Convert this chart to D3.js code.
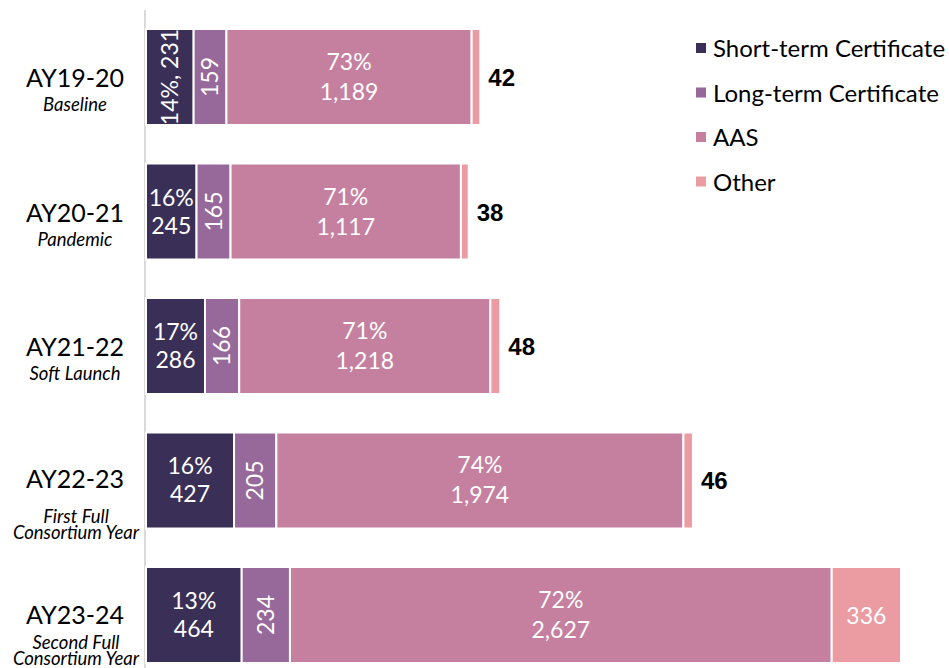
<!DOCTYPE html>
<html>
<head>
<meta charset="utf-8">
<script src="https://cdn.jsdelivr.net/npm/d3@7"></script>
<style>
  html, body { margin: 0; padding: 0; background: #fff; }
  svg { display: block; }
</style>
</head>
<body>
<svg id="chart" width="949" height="668"></svg>
<script>
// Awards by credential type, per academic year
const years = ["AY19-20", "AY20-21", "AY21-22", "AY22-23", "AY23-24"];
const subtitles = [["Baseline"], ["Pandemic"], ["Soft Launch"], ["First Full", "Consortium Year"], ["Second Full", "Consortium Year"]];
const seriesNames = ["Short-term Certificate", "Long-term Certificate", "AAS", "Other"];
const shortTerm = [231, 245, 286, 427, 464];
const longTerm = [159, 165, 166, 205, 234];
const aas = [1189, 1117, 1218, 1974, 2627];
const other = [42, 38, 48, 46, 336];
const colors = ["#3a2f57", "#97699a", "#c6809f", "#eb9ca2"];

// vertical offsets (from bar centre) of the category label lines
const labelOffsets = [[10, 34], [10, 34], [10, 34], [8, 43, 59], [9, 34, 50]];

const rows = years.map((y, i) => ({
  year: y, sub: subtitles[i], off: labelOffsets[i],
  vals: [shortTerm[i], longTerm[i], aas[i], other[i]]
}));
rows.forEach(r => { r.total = d3.sum(r.vals); });

const svg = d3.select("#chart");
const x = d3.scaleLinear().domain([0, 3661]).range([146, 901]);
const y = d3.scaleBand().domain(years).range([29, 663]).paddingInner(0.2862).paddingOuter(0);

// vertical category axis line
svg.append("line")
  .attr("x1", 145).attr("x2", 145).attr("y1", 10).attr("y2", 668)
  .attr("stroke", "#d9d9d9").attr("stroke-width", 2);

const fmt = d3.format(",");
const pct = v => Math.round(v * 100) + "%";
const labelFont = "23px Lato";

rows.forEach((r, ri) => {
  const g = svg.append("g");
  const top = y(r.year), h = y.bandwidth(), cy = top + h / 2;
  let acc = 0;
  const segs = r.vals.map((v, k) => { const s = { k, v, a: acc, b: acc + v }; acc += v; return s; });

  g.selectAll("rect").data(segs).join("rect")
    .attr("x", d => x(d.a))
    .attr("y", top)
    .attr("width", d => x(d.b) - x(d.a))
    .attr("height", h)
    .attr("fill", d => colors[d.k])
    .attr("stroke", "#fff").attr("stroke-width", 2);

  // Short-term label
  const s0 = segs[0], mx0 = (x(s0.a) + x(s0.b)) / 2;
  if (ri === 0) {
    g.append("text").attr("transform", `translate(${mx0 + 8},${cy}) rotate(-90)`)
      .attr("text-anchor", "middle").attr("fill", "#fff")
      .style("font", labelFont).text(pct(s0.v / r.total) + ", " + fmt(s0.v));
  } else {
    const t = g.append("text").attr("text-anchor", "middle").attr("fill", "#fff").style("font", labelFont);
    t.append("tspan").attr("x", mx0).attr("y", cy - 6).text(pct(s0.v / r.total));
    t.append("tspan").attr("x", mx0).attr("y", cy + 22).text(fmt(s0.v));
  }

  // Long-term label, rotated
  const s1 = segs[1], mx1 = (x(s1.a) + x(s1.b)) / 2;
  g.append("text").attr("transform", `translate(${mx1 + 8},${cy}) rotate(-90)`)
    .attr("text-anchor", "middle").attr("fill", "#fff")
    .style("font", labelFont).text(fmt(s1.v));

  // AAS label
  const s2 = segs[2], mx2 = (x(s2.a) + x(s2.b)) / 2;
  const t2 = g.append("text").attr("text-anchor", "middle").attr("fill", "#fff").style("font", labelFont);
  t2.append("tspan").attr("x", mx2).attr("y", cy - 7).text(pct(s2.v / r.total));
  t2.append("tspan").attr("x", mx2).attr("y", cy + 23).text(fmt(s2.v));

  // Other label: inside when it fits, otherwise bold to the right
  const s3 = segs[3];
  if (x(s3.b) - x(s3.a) > 40) {
    g.append("text").attr("x", (x(s3.a) + x(s3.b)) / 2).attr("y", cy + 9)
      .attr("text-anchor", "middle").attr("fill", "#fff")
      .style("font", labelFont).text(fmt(s3.v));
  } else {
    g.append("text").attr("x", x(s3.b) + 8).attr("y", cy + 9)
      .attr("fill", "#000")
      .style("font", "bold 24px 'Liberation Sans', Arial, sans-serif").text(fmt(s3.v));
  }

  // Category labels
  const lx = 75;
  g.append("text").attr("x", lx).attr("y", cy + r.off[0]).attr("text-anchor", "middle")
    .attr("fill", "#000").style("font", "25px Lato").text(r.year);
  r.sub.forEach((s, si) => {
    g.append("text").attr("x", lx + (r.sub.length > 1 ? 1 : 0)).attr("y", cy + r.off[si + 1])
      .attr("text-anchor", "middle")
      .attr("fill", "#000").style("font", "italic 18.5px Lato").text(s);
  });
});

// Legend
const lg = svg.append("g");
seriesNames.forEach((n, i) => {
  const base = 57 + i * 44.5;
  lg.append("rect").attr("x", 696).attr("y", base - 14).attr("width", 10).attr("height", 10).attr("fill", colors[i]);
  lg.append("text").attr("x", 713).attr("y", base).attr("fill", "#000")
    .style("font", "24px Lato").text(n);
});
</script>
</body>
</html>
